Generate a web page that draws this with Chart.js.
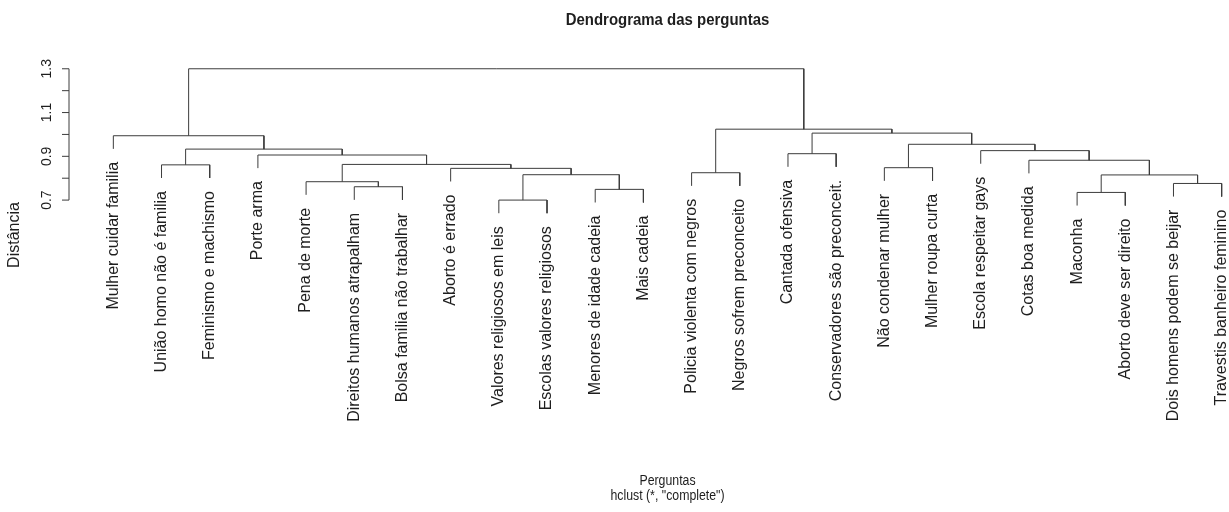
<!DOCTYPE html>
<html lang="pt">
<head>
<meta charset="utf-8">
<title>Dendrograma das perguntas</title>
<script src="https://cdn.jsdelivr.net/npm/chart.js@4.4.1/dist/chart.umd.min.js"></script>
<style>
    html, body { margin: 0; padding: 0; background: #fff; overflow: hidden; }
    #wrap { position: relative; width: 1266px; height: 512px; }
</style>
</head>
<body>
<div id="wrap"><canvas id="dendroChart"></canvas></div>
<script>
// Leaves in plotting order (left to right)
const leafLabels = [
    'Mulher cuidar familia', 'União homo não é familia', 'Feminismo e machismo', 'Porte arma',
    'Pena de morte', 'Direitos humanos atrapalham', 'Bolsa familia não trabalhar', 'Aborto é errado',
    'Valores religiosos em leis', 'Escolas valores religiosos', 'Menores de idade cadeia', 'Mais cadeia',
    'Policia violenta com negros', 'Negros sofrem preconceito', 'Cantada ofensiva', 'Conservadores são preconceit.',
    'Não condenar mulher', 'Mulher roupa curta', 'Escola respeitar gays', 'Cotas boa medida',
    'Maconha', 'Aborto deve ser direito', 'Dois homens podem se beijar', 'Travestis banheiro feminino'
];

// hclust style merge table: negative = leaf position (1-based), positive = earlier merge step (1-based)
const mergeLeft   = [-9, -21, -11, -6, -23, -5, 1, 2, -13, -8, -17, -2, 6, -20, -4, -15, -19, 12, 11, -1, 16, 9, 20];
const mergeRight  = [-10, -22, -12, -7, -24, 4, 3, 5, -14, 7, -18, -3, 10, 8, 13, -16, 14, 15, 17, 18, 19, 21, 22];
const mergeHeight = [0.700, 0.735, 0.749, 0.761, 0.776, 0.784, 0.816, 0.815, 0.825, 0.845, 0.848, 0.861,
                     0.863, 0.882, 0.906, 0.912, 0.926, 0.933, 0.955, 0.994, 1.006, 1.024, 1.300];

// Distance axis
const yTickValues = [0.7, 0.8, 0.9, 1.0, 1.1, 1.2, 1.3];
const yTickLabels = ['0.7', '', '0.9', '', '1.1', '', '1.3'];

(function() {
    'use strict';

    const LINE_COLOR = '#3c3c3c';
    const TEXT_COLOR = '#1e1e1e';
    const FONT = '"Liberation Sans", Arial, sans-serif';
    const SQUASH = 0.88; // horizontal text in the original looks a bit condensed

    /**
     * Turn the merge table into U-shaped segments, like plot.hclust does
     */
    function buildTree() {
        const n = leafLabels.length;
        const hang = 0.1 * (Math.max(...mergeHeight) - Math.min(...mergeHeight));
        const nodeX = [];
        const leafBottom = new Array(n);

        const childPoint = (ref, h) => {
            if (ref < 0) {
                const i = -ref;
                leafBottom[i - 1] = h - hang;
                return { x: i, y: h - hang };
            }
            return { x: nodeX[ref - 1], y: mergeHeight[ref - 1] };
        };

        const segments = mergeHeight.map((h, k) => {
            const a = childPoint(mergeLeft[k], h);
            const b = childPoint(mergeRight[k], h);
            nodeX[k] = (a.x + b.x) / 2;
            return [a, { x: a.x, y: h }, { x: b.x, y: h }, b];
        });

        const lo = Math.min(...mergeHeight) - hang;
        const hi = Math.max(...mergeHeight);
        return { n, hang, segments, leafBottom, lo, hi };
    }

    const tree = buildTree();

    /**
     * Draw text rotated 90 degrees (reading bottom to top)
     */
    function vText(ctx, str, x, y, align) {
        ctx.save();
        ctx.translate(x, y);
        ctx.rotate(-Math.PI / 2);
        ctx.textAlign = align;
        ctx.textBaseline = 'middle';
        ctx.fillText(str, 0, 0);
        ctx.restore();
    }

    /**
     * Draw horizontal text, slightly condensed
     */
    function hText(ctx, str, x, y) {
        ctx.save();
        ctx.translate(x, y);
        ctx.scale(SQUASH, 1);
        ctx.textAlign = 'center';
        ctx.textBaseline = 'alphabetic';
        ctx.fillText(str, 0, 0);
        ctx.restore();
    }

    // Axis, leaf labels and titles in base-R style
    const rDecor = {
        id: 'rDecor',
        afterDraw(chart) {
            const ctx = chart.ctx;
            const xs = chart.scales.x;
            const ys = chart.scales.y;
            const left = chart.chartArea.left;

            ctx.save();
            ctx.strokeStyle = LINE_COLOR;
            ctx.lineWidth = 1;
            ctx.fillStyle = TEXT_COLOR;

            // y axis line + ticks
            const yTop = ys.getPixelForValue(yTickValues[yTickValues.length - 1]);
            const yBot = ys.getPixelForValue(yTickValues[0]);
            ctx.beginPath();
            ctx.moveTo(left, yTop);
            ctx.lineTo(left, yBot);
            yTickValues.forEach(v => {
                const py = ys.getPixelForValue(v);
                ctx.moveTo(left - 7, py);
                ctx.lineTo(left, py);
            });
            ctx.stroke();

            ctx.font = '14px ' + FONT;
            yTickValues.forEach((v, i) => {
                if (yTickLabels[i]) vText(ctx, yTickLabels[i], left - 22, ys.getPixelForValue(v), 'center');
            });

            // leaf labels hang below each leaf
            ctx.font = '16px ' + FONT;
            leafLabels.forEach((lab, i) => {
                const px = xs.getPixelForValue(i + 1);
                const py = ys.getPixelForValue(tree.leafBottom[i]) + 13;
                vText(ctx, lab, px, py, 'right');
            });

            // titles
            const cx = xs.getPixelForValue((1 + tree.n) / 2);
            ctx.font = 'bold 17px ' + FONT;
            hText(ctx, 'Dendrograma das perguntas', cx, 25);
            ctx.font = '14px ' + FONT;
            hText(ctx, 'Perguntas', cx, 485);
            hText(ctx, 'hclust (*, "complete")', cx, 500);
            ctx.font = '16px ' + FONT;
            vText(ctx, 'Distância', 15, 235, 'center');

            ctx.restore();
        }
    };

    function initDendrogram() {
        const el = document.getElementById('dendroChart');
        if (!el) return;

        const xPad = 0.04 * (tree.n - 1);
        const yPad = 0.04 * (tree.hi - tree.lo);

        new Chart(el.getContext('2d'), {
            type: 'scatter',
            data: {
                datasets: tree.segments.map(pts => ({
                    data: pts,
                    showLine: true,
                    borderColor: LINE_COLOR,
                    borderWidth: 1,
                    pointRadius: 0,
                    pointHoverRadius: 0,
                    tension: 0
                }))
            },
            options: {
                responsive: true,
                maintainAspectRatio: false,
                animation: false,
                events: [],
                layout: { padding: { top: 63, bottom: 293, left: 69, right: 0 } },
                plugins: {
                    legend: { display: false },
                    tooltip: { enabled: false },
                    title: { display: false }
                },
                scales: {
                    x: { type: 'linear', display: false, min: 1 - xPad, max: tree.n + xPad },
                    y: { type: 'linear', display: false, min: tree.lo - yPad, max: tree.hi + yPad }
                }
            },
            plugins: [rDecor]
        });
    }

    document.addEventListener('DOMContentLoaded', initDendrogram);
})();
</script>
</body>
</html>
